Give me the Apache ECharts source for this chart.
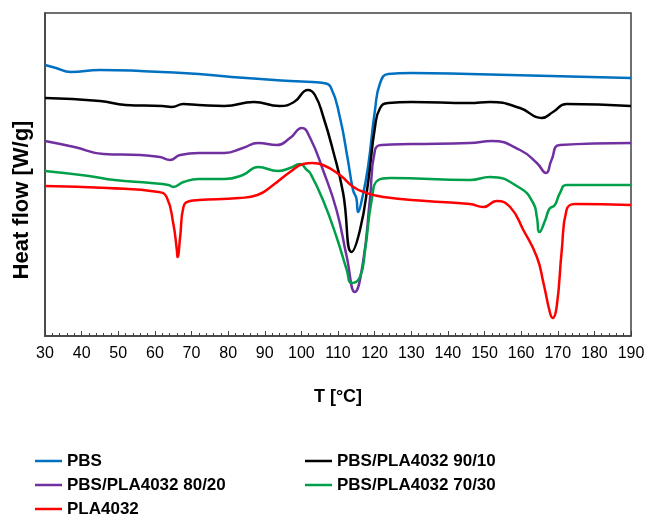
<!DOCTYPE html>
<html>
<head>
<meta charset="utf-8">
<script src="https://cdn.jsdelivr.net/npm/echarts@6/dist/echarts.min.js"></script>
<style>
  html, body { margin: 0; padding: 0; background: #fff; }
  #main { width: 649px; height: 520px; }
</style>
</head>
<body>
<div id="main"></div>
<script>
// DSC curves, [T (°C), heat flow (arb. units, offset)]
var pbs = [[30,27.1],[33,26.8],[37,26.4],[45,26.6],[56,26.5],[72,26.2],[81,25.9],[97,25.5],[103,25.4],[106,25.3],[108,24.9],[110.5,21.9],[112.7,17.6],[114.1,14.6],[115,13.8],[115.5,12.4],[116.5,13.6],[118.2,16.9],[120.1,22.6],[121.5,25.3],[123.7,26.2],[130,26.3],[146,26.2],[190,25.8]];
var blend9010 = [[30,23.8],[45,23.5],[52,23.1],[62,23.0],[64.6,22.9],[67.8,23.2],[72,23.1],[79,23.0],[87,23.4],[94,23.0],[98,23.4],[101.8,24.6],[103.7,24.1],[106,21.9],[108.6,18.6],[111.4,14.3],[113.7,8.4],[116,10.6],[118.2,15.3],[120.1,20.9],[121.5,22.8],[123.7,23.3],[130,23.4],[146,23.3],[151.5,23.4],[159.7,22.8],[165.6,21.8],[168.7,22.4],[172.4,23.2],[190,23.0]];
var blend8020 = [[30,19.5],[38,18.9],[46,18.2],[56,18.1],[61.4,17.9],[64.1,17.6],[66.9,18.1],[72,18.3],[79,18.3],[84,18.8],[88.2,19.3],[93.3,19.1],[96.9,19.8],[100.1,20.8],[102.4,19.8],[105.9,16.6],[109.6,12.6],[112.4,7.9],[114.6,4.4],[116.8,7.3],[118.7,13.6],[120.1,18.6],[121.9,19.1],[130,19.2],[146,19.3],[152,19.5],[159.7,18.6],[164.3,17.3],[166.8,16.3],[168.3,17.6],[170.6,19.1],[190,19.3]];
var blend7030 = [[30,16.5],[42,16.0],[49,15.6],[59,15.3],[63.7,15.1],[65,14.9],[67.8,15.4],[72,15.7],[79,15.7],[84,16.1],[88.2,16.9],[93.6,16.5],[96.9,16.8],[99.6,17.2],[101.5,16.6],[102.4,16.3],[105.9,13.6],[109.6,9.9],[112.4,6.6],[113.7,5.3],[116,5.9],[117.4,8.6],[119.2,13.6],[121,15.6],[124.2,15.8],[146,15.6],[151.5,15.9],[159.7,14.8],[163.3,13.3],[164.3,11.9],[165,10.4],[166.6,11.6],[167.7,12.7],[169.2,13.1],[170.6,14.3],[172.4,15.1],[190,15.1]];
var pla4032 = [[30,15.0],[47,14.8],[61,14.4],[63.2,13.9],[65,11.3],[66,8.6],[66.2,7.9],[66.9,9.9],[67.8,12.9],[69.6,13.5],[72,13.6],[83,13.8],[88,14.1],[92.3,15.1],[96.9,16.4],[100.5,17.2],[103,17.3],[105.9,17.1],[110.5,16.1],[114.2,14.9],[117.8,14.3],[122.4,13.9],[134,13.5],[146,13.2],[149.7,12.9],[153.3,13.5],[157,12.9],[160.6,10.6],[164.3,7.9],[166.1,5.3],[167.9,2.3],[168.6,1.8],[169.7,2.9],[171.1,8.6],[172.4,12.6],[174.7,13.2],[190,13.1]];

var names = ["PBS", "PBS/PLA4032 90/10", "PBS/PLA4032 80/20", "PBS/PLA4032 70/30", "PLA4032"];
var colors = ["#0070c0", "#000000", "#7030a0", "#00a04a", "#ff0000"];
var curves = [pbs, blend9010, blend8020, blend7030, pla4032];

var myChart = echarts.init(document.getElementById("main"));

var series = curves.map(function (d, i) {
  return {
    name: names[i],
    type: "line",
    data: d,
    smooth: 0.5,
    symbol: "none",
    lineStyle: { color: colors[i], width: 2.5 },
    itemStyle: { color: colors[i] },
  };
});

var legendText = { fontFamily: "Liberation Sans", fontSize: 17, fontWeight: "bold", color: "#000", lineHeight: 24 };

var option = {
  backgroundColor: "#fff",
  animation: false,
  grid: {
    left: 45, right: 18, top: 13, bottom: 184,
    show: true, borderColor: "#404040", borderWidth: 1.5,
  },
  legend: [
    {
      orient: "vertical", left: 35, top: 449, height: 100, padding: 0,
      icon: "rect", itemWidth: 27, itemHeight: 2.5, itemGap: 0,
      textStyle: legendText,
      data: [names[0], names[2], names[4]],
    },
    {
      orient: "vertical", left: 305, top: 449, height: 100, padding: 0,
      icon: "rect", itemWidth: 27, itemHeight: 2.5, itemGap: 0,
      textStyle: legendText,
      data: [names[1], names[3]],
    },
  ],
  xAxis: {
    type: "value",
    min: 30, max: 190, interval: 10,
    name: "T [°C]",
    nameLocation: "middle",
    nameGap: 52,
    nameTextStyle: { fontFamily: "Liberation Sans", fontSize: 18, fontWeight: "bold", color: "#000" },
    axisLine: { show: true, lineStyle: { color: "#404040", width: 1.5 } },
    axisTick: { show: true, inside: true, length: 5, lineStyle: { color: "#404040" } },
    minorTick: { show: true, splitNumber: 5, length: 3, lineStyle: { color: "#404040" } },
    axisLabel: { margin: 10, fontFamily: "Liberation Sans", fontSize: 16, color: "#000" },
    splitLine: { show: false },
  },
  yAxis: {
    type: "value",
    min: 0, max: 32.3,
    name: "Heat flow [W/g]",
    nameLocation: "middle",
    nameGap: 12,
    nameTextStyle: { fontFamily: "Liberation Sans", fontSize: 22, fontWeight: "bold", color: "#000", padding: [0, 51, 0, 0] },
    axisLine: { show: true, lineStyle: { color: "#404040", width: 1.5 } },
    axisTick: { show: false },
    axisLabel: { show: false },
    splitLine: { show: false },
  },
  series: series,
};

option && myChart.setOption(option);
</script>
</body>
</html>
